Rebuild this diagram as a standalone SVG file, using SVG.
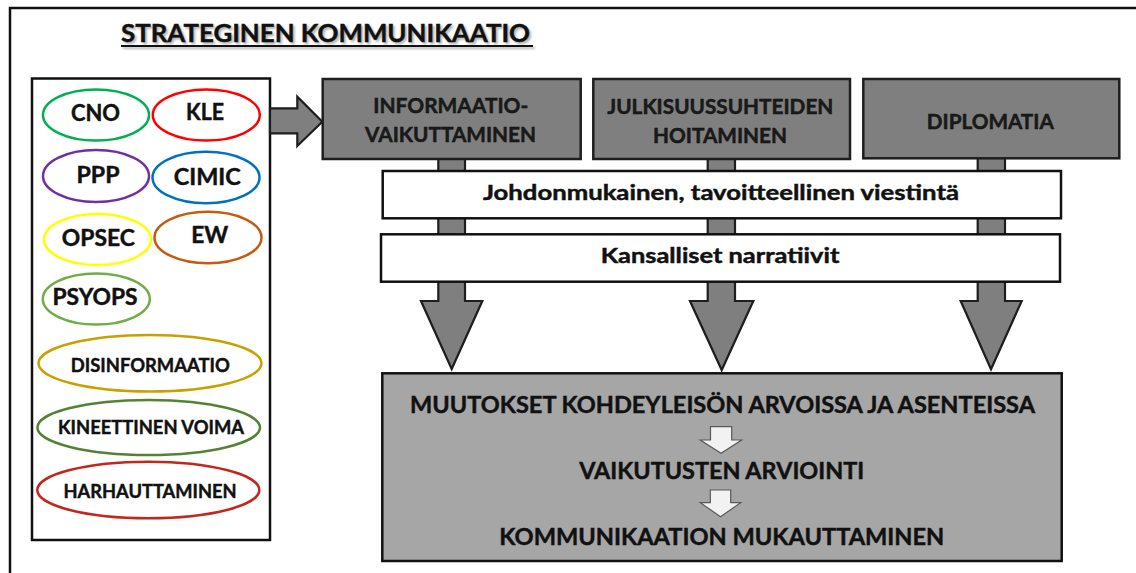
<svg xmlns="http://www.w3.org/2000/svg" width="1136" height="573" viewBox="0 0 1136 573">
  <defs>
    <style>
      .t { font-family: Lato, "Open Sans", "Liberation Sans", sans-serif; font-weight: bold; fill: #111; stroke: #111; stroke-width: 0.45; }
      .el { fill: #fff; stroke-width: 2.5; }
      .box { fill: #7f7f7f; stroke: #1e1e1e; stroke-width: 2.5; }
      .bar { fill: #fff; stroke: #111; stroke-width: 2.5; }
      .arr { fill: #7f7f7f; stroke: #1e1e1e; stroke-width: 2.2; stroke-linejoin: miter; }
      .warr { fill: #f2f2f2; stroke: #595959; stroke-width: 1.2; }
    </style>
    <filter id="shadow" x="-5%" y="-30%" width="110%" height="160%">
      <feGaussianBlur stdDeviation="1.2"/>
    </filter>
  </defs>

  <!-- outer frame -->
  <rect x="10" y="8" width="1140" height="600" fill="#fff" stroke="#111" stroke-width="2.5"/>

  <!-- title -->
  <g id="title">
    <g transform="translate(2,2)" opacity="0.55" filter="url(#shadow)">
      <text class="t" x="121" y="42" font-size="25" textLength="409" lengthAdjust="spacingAndGlyphs" style="fill:#777;stroke:#777">STRATEGINEN KOMMUNIKAATIO</text>
      <rect x="121" y="45" width="412" height="2" fill="#777"/>
    </g>
    <text class="t" x="121" y="42" font-size="25" textLength="409" lengthAdjust="spacingAndGlyphs">STRATEGINEN KOMMUNIKAATIO</text>
    <rect x="121" y="45" width="412" height="2" fill="#111"/>
  </g>

  <!-- left box with ellipses -->
  <g id="left-box">
    <rect x="32" y="78.5" width="238" height="461.5" fill="#fff" stroke="#111" stroke-width="2.5"/>
  </g>
  <g id="cno"><ellipse class="el" cx="96" cy="115" rx="53" ry="25.5" stroke="#00b050"/><text class="t" x="95.5" y="121" font-size="22" text-anchor="middle" textLength="49" lengthAdjust="spacingAndGlyphs">CNO</text></g>
  <g id="kle"><ellipse class="el" cx="206.3" cy="115" rx="53.5" ry="25.5" stroke="#ff0000"/><text class="t" x="205" y="119.5" font-size="22" text-anchor="middle" textLength="38" lengthAdjust="spacingAndGlyphs">KLE</text></g>
  <g id="ppp"><ellipse class="el" cx="96" cy="176" rx="53" ry="26" stroke="#7030a0"/><text class="t" x="98" y="183.3" font-size="22" text-anchor="middle" textLength="43" lengthAdjust="spacingAndGlyphs">PPP</text></g>
  <g id="cimic"><ellipse class="el" cx="206" cy="177.5" rx="53.5" ry="25.8" stroke="#0070c0"/><text class="t" x="207.3" y="185" font-size="22" text-anchor="middle" textLength="67" lengthAdjust="spacingAndGlyphs">CIMIC</text></g>
  <g id="opsec"><ellipse class="el" cx="97.5" cy="239.5" rx="53.5" ry="25.5" stroke="#ffff00"/><text class="t" x="98.3" y="245.7" font-size="22" text-anchor="middle" textLength="73" lengthAdjust="spacingAndGlyphs">OPSEC</text></g>
  <g id="ew"><ellipse class="el" cx="208" cy="237.5" rx="53.5" ry="25.8" stroke="#c55a11"/><text class="t" x="209.7" y="243.3" font-size="22" text-anchor="middle" textLength="37" lengthAdjust="spacingAndGlyphs">EW</text></g>
  <g id="psyops"><ellipse class="el" cx="96.3" cy="299" rx="53.5" ry="25.5" stroke="#70ad47"/><text class="t" x="95" y="305" font-size="22" text-anchor="middle" textLength="85" lengthAdjust="spacingAndGlyphs">PSYOPS</text></g>
  <g id="disinformaatio"><ellipse class="el" cx="150" cy="363.3" rx="111.5" ry="28.3" stroke="#c9a000"/><text class="t" x="150.3" y="371.7" font-size="19" text-anchor="middle" textLength="159" lengthAdjust="spacingAndGlyphs">DISINFORMAATIO</text></g>
  <g id="kineettinen"><ellipse class="el" cx="148.7" cy="427.5" rx="111.3" ry="27.5" stroke="#548235"/><text class="t" x="151" y="434" font-size="19" text-anchor="middle" textLength="186" lengthAdjust="spacingAndGlyphs">KINEETTINEN VOIMA</text></g>
  <g id="harhauttaminen"><ellipse class="el" cx="148.3" cy="490" rx="111" ry="28.3" stroke="#c0281e"/><text class="t" x="150" y="498.3" font-size="19" text-anchor="middle" textLength="173" lengthAdjust="spacingAndGlyphs">HARHAUTTAMINEN</text></g>

  <!-- connectors -->
  <g id="connectors">
    <polygon class="arr" points="270,108.3 297.3,108.3 297.3,96.7 322.3,121.7 297.3,146 297.3,133.3 270,133.3"/>
    <polygon class="arr" points="438.3,150 465,150 465,301 482.3,301 451.7,369 421,301 438.3,301"/>
    <polygon class="arr" points="707.7,150 735,150 735,301 753.3,301 721.7,370 690,301 707.7,301"/>
    <polygon class="arr" points="977.7,150 1005,150 1005,301 1021.7,301 991,369.3 960.7,301 977.7,301"/>
  </g>

  <!-- top boxes -->
  <g id="informaatio">
    <rect class="box" x="322.7" y="79" width="258" height="80"/>
    <text class="t" x="450.8" y="113.3" font-size="20" text-anchor="middle" textLength="155" lengthAdjust="spacingAndGlyphs" style="fill:#1a1a1a">INFORMAATIO-</text>
    <text class="t" x="450.5" y="141.7" font-size="20" text-anchor="middle" textLength="171" lengthAdjust="spacingAndGlyphs" style="fill:#1a1a1a">VAIKUTTAMINEN</text>
  </g>
  <g id="julkisuus">
    <rect class="box" x="593.3" y="79" width="256.7" height="80"/>
    <text class="t" x="720.3" y="114" font-size="20" text-anchor="middle" textLength="226" lengthAdjust="spacingAndGlyphs" style="fill:#1a1a1a">JULKISUUSSUHTEIDEN</text>
    <text class="t" x="720" y="142.5" font-size="20" text-anchor="middle" textLength="134" lengthAdjust="spacingAndGlyphs" style="fill:#1a1a1a">HOITAMINEN</text>
  </g>
  <g id="diplomatia">
    <rect class="box" x="863.3" y="79" width="256" height="79.3"/>
    <text class="t" x="990.3" y="129" font-size="20" text-anchor="middle" textLength="127" lengthAdjust="spacingAndGlyphs" style="fill:#1a1a1a">DIPLOMATIA</text>
  </g>

  <!-- white bars -->
  <g id="johdonmukainen">
    <rect class="bar" x="382.7" y="171" width="678.3" height="47.3"/>
    <text class="t" x="721" y="200" font-size="20" text-anchor="middle" textLength="476" lengthAdjust="spacingAndGlyphs">Johdonmukainen, tavoitteellinen viestintä</text>
  </g>
  <g id="kansalliset">
    <rect class="bar" x="381" y="234.3" width="679" height="47.4"/>
    <text class="t" x="720" y="263.3" font-size="20" text-anchor="middle" textLength="238.7" lengthAdjust="spacingAndGlyphs">Kansalliset narratiivit</text>
  </g>

  <!-- bottom box -->
  <g id="muutokset">
    <rect x="382.3" y="373.3" width="679.4" height="187.7" fill="#a6a6a6" stroke="#111" stroke-width="2.5"/>
    <text class="t" x="722.5" y="413.3" font-size="23.5" text-anchor="middle" textLength="625" lengthAdjust="spacingAndGlyphs">MUUTOKSET KOHDEYLEISÖN ARVOISSA JA ASENTEISSA</text>
    <polygon class="warr" points="710.5,426.7 731.7,426.7 731.7,440 741.7,440 721,453.3 700.3,440 710.5,440"/>
    <text class="t" x="721.7" y="479" font-size="23.5" text-anchor="middle" textLength="285" lengthAdjust="spacingAndGlyphs">VAIKUTUSTEN ARVIOINTI</text>
    <polygon class="warr" points="710.3,490 730.7,490 730.7,502.7 740.7,502.7 720.5,516.7 700.3,502.7 710.3,502.7"/>
    <text class="t" x="721.8" y="545" font-size="23.5" text-anchor="middle" textLength="445" lengthAdjust="spacingAndGlyphs">KOMMUNIKAATION MUKAUTTAMINEN</text>
  </g>
</svg>
